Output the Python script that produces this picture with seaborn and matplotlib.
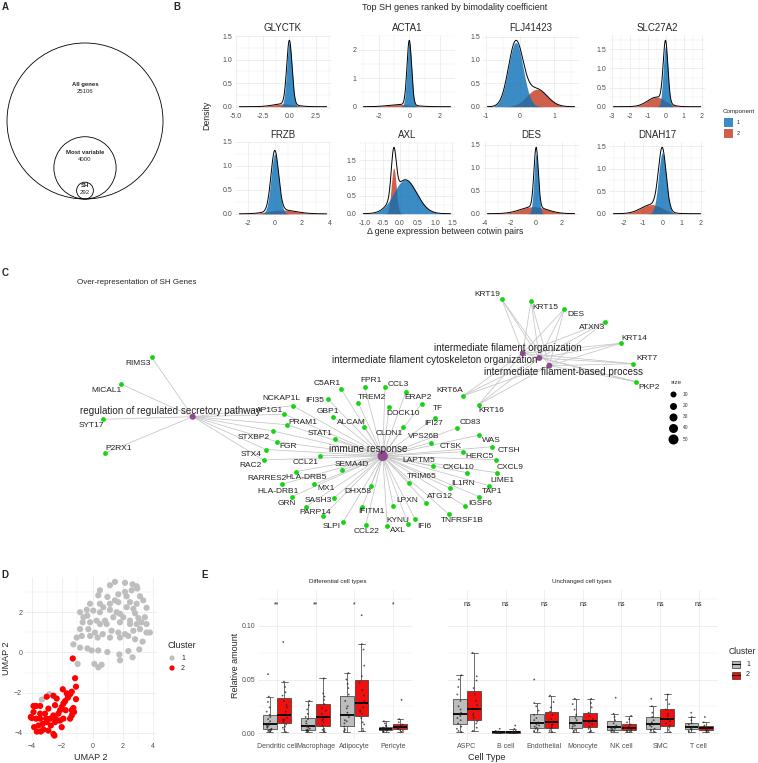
import matplotlib
matplotlib.use("Agg")
import matplotlib.pyplot as plt
from matplotlib.patches import Circle, Rectangle
from matplotlib.ticker import AutoMinorLocator, FixedLocator
import numpy as np
import pandas as pd
import seaborn as sns

W, H = 758, 763

# ---- A: nested gene sets
venn_labels = ["All genes", "Most variable", "SH"]
venn_counts = [25106, 4000, 292]

# ---- B: two-component mixture fits per gene (mean, sd, weight)
gene_names = ["GLYCTK", "ACTA1", "FLJ41423", "SLC27A2", "FRZB", "AXL", "DES", "DNAH17"]
c1_mean = [0.0, 0.0, -0.12, 0.0, 0.0, 0.15, 0.0, 0.0]
c1_sd = [0.25, 0.15, 0.215, 0.13, 0.28, 0.33, 0.17, 0.2]
c1_w = [0.85, 0.85, 0.74, 0.515, 0.88, 0.79, 0.55, 0.68]
c2_mean = [-0.5, -0.5, 0.5, -0.5, 0.5, -0.18, -0.2, -0.55]
c2_sd = [1.0, 0.8, 0.3, 0.5, 1.0, 0.07, 1.0, 0.55]
c2_w = [0.15, 0.15, 0.28, 0.31, 0.2, 0.225, 0.38, 0.28]
x_lo = [-4.7, -3.0, -0.95, -2.9, -2.6, -1.05, -3.8, -2.55]
x_hi = [3.5, 2.7, 1.6, 1.95, 3.8, 1.45, 3.0, 2.0]
x_ticks = [[-5.0, -2.5, 0.0, 2.5], [-2, 0, 2], [-1, 0, 1], [-3, -2, -1, 0, 1, 2],
           [-2, 0, 2, 4], [-1.0, -0.5, 0.0, 0.5, 1.0, 1.5], [-4, -2, 0, 2], [-2, -1, 0, 1, 2]]
x_fmt = ["{:.1f}", "{:g}", "{:g}", "{:g}", "{:g}", "{:.1f}", "{:g}", "{:g}"]

# ---- C: enrichment network
hub_names = ["immune response", "regulation of regulated secretory pathway",
             "intermediate filament organization",
             "intermediate filament cytoskeleton organization",
             "intermediate filament-based process"]
hub_x = [382.7, 192.7, 522.7, 539.3, 549.3]
hub_y = [456.0, 416.7, 353.3, 358.0, 365.7]
hub_label_x = [368.3, 170.0, 508.3, 434.5, 563.3]
hub_label_y = [449.0, 410.7, 347.7, 360.0, 372.3]

net_genes = ["RIMS3", "MICAL1", "SYT17", "P2RX1",
             "NCKAP1L", "AP1G1", "PRAM1", "STXBP2", "FGR", "STX4", "RAC2",
             "CCL21", "C5AR1", "IFI35", "GBP1", "ALCAM", "STAT1", "FPR1", "TREM2", "CCL3", "ERAP2",
             "DOCK10", "TF", "IFI27", "CD83", "CLDN1", "VPS26B", "WAS", "CTSK", "CTSH", "HERC5",
             "CXCL9", "CXCL10", "LAPTM5", "SEMA4D", "RARRES2", "HLA-DRB5", "MX1", "HLA-DRB1", "GRN", "SASH3",
             "PARP14", "DHX58", "TRIM65", "IL1RN", "LIME1", "TAP1", "ATG12", "IGSF6", "LPXN", "IFITM1",
             "TNFRSF1B", "SLPI", "CCL22", "KYNU", "AXL", "IFI6",
             "KRT6A", "KRT16", "KRT19", "KRT15", "DES", "ATXN3", "KRT14", "KRT7", "PKP2"]
node_x = [151.7, 120.7, 103.3, 105.0,
          292.7, 284.3, 286.7, 272.7, 277.0, 266.0, 263.5,
          320.0, 341.2, 327.5, 333.3, 364.3, 334.5, 364.5, 358.3, 385.0, 405.8,
          389.3, 421.7, 435.0, 457.3, 403.3, 431.0, 479.3, 463.3, 492.3, 496.0,
          496.7, 467.3, 432.5, 342.3, 281.7, 295.7, 314.3, 292.0, 306.0, 334.3,
          323.3, 371.0, 409.3, 450.0, 489.3, 479.3, 426.0, 465.0, 393.3, 362.3,
          449.0, 343.3, 365.7, 387.3, 408.3, 415.0,
          463.3, 478.7, 501.7, 531.0, 564.3, 605.3, 620.7, 633.3, 636.0]
node_y = [357.3, 384.0, 419.3, 453.0,
          405.7, 414.3, 424.7, 431.0, 441.7, 449.5, 460.0,
          455.5, 389.0, 398.5, 417.0, 427.2, 438.7, 386.5, 403.0, 387.3, 391.8,
          407.2, 403.5, 417.5, 427.7, 427.2, 442.5, 435.0, 451.7, 446.7, 459.7,
          472.7, 472.7, 466.0, 470.0, 484.3, 471.7, 484.3, 496.7, 506.7, 497.7,
          515.7, 485.7, 482.7, 488.3, 485.7, 496.7, 502.7, 506.0, 506.0, 506.7,
          514.3, 521.7, 525.0, 525.7, 524.0, 519.0,
          395.7, 404.5, 299.3, 301.3, 309.0, 321.7, 343.3, 363.7, 381.7]
label_x = [137.7, 106.0, 91.7, 118.3,
           281.0, 270.0, 303.3, 254.0, 288.3, 251.5, 250.0,
           306.0, 327.0, 314.5, 328.3, 351.7, 320.0, 371.5, 372.3, 398.3, 418.3,
           402.7, 438.3, 433.3, 470.0, 389.3, 423.3, 491.7, 450.7, 509.0, 479.3,
           510.0, 458.3, 418.3, 351.7, 267.3, 306.0, 326.0, 278.3, 286.7, 318.3,
           315.0, 358.3, 421.7, 463.3, 502.7, 491.7, 440.0, 480.0, 407.3, 371.0,
           462.7, 331.7, 366.7, 398.3, 398.3, 424.0,
           450.0, 491.7, 487.7, 545.0, 576.0, 591.7, 634.3, 646.7, 649.3]
label_y = [363.7, 390.0, 425.7, 448.0,
           399.0, 410.0, 422.0, 437.3, 447.0, 454.0, 465.7,
           462.0, 383.5, 400.5, 411.3, 422.0, 433.3, 380.5, 397.7, 384.5, 397.7,
           413.3, 408.3, 423.3, 422.7, 433.3, 436.7, 440.0, 446.7, 450.7, 456.7,
           467.7, 467.3, 460.0, 465.0, 478.3, 477.3, 489.0, 491.7, 503.3, 501.0,
           512.3, 491.7, 476.7, 483.3, 480.0, 491.7, 496.7, 503.3, 501.0, 511.7,
           520.7, 526.7, 531.7, 520.0, 531.0, 527.0,
           390.0, 410.7, 294.0, 307.3, 314.0, 327.7, 338.0, 358.3, 387.3]
secretory_genes = net_genes[:11]
immune_genes = net_genes[4:57]
filament_genes = net_genes[57:]
size_breaks = [10, 20, 30, 40, 50]

# ---- D: UMAP of samples
c1_x = [1.48, 2.14, 2.64, 2.91, 1.15, 1.70, 2.14, 2.58, 2.95, 0.49,
        0.38, 0.98, 1.48, 2.25, 3.13, 3.34, -0.16, 0.49, 0.71, 1.15,
        1.70, 2.47, 2.91, -0.38, -0.82, 0.05, 0.49, 1.15, 1.59, 2.25,
        2.69, 1.81, 2.80, 3.56, -0.60, -0.34, 0.27, 0.82, 1.37, 2.03,
        2.47, 3.02, 3.45, 3.56, -0.65, -0.16, 0.49, 0.93, 1.81, 2.47,
        2.91, 3.23, -0.82, -0.27, 0.16, 0.67, 1.26, 1.70, 2.14, 2.69,
        3.13, 3.56, 3.78, -1.04, -0.71, -0.16, 0.34, 1.15, 1.81, 2.36,
        2.80, 3.30, -1.26, -0.82, -0.34, -0.05, 0.38, 0.98, 1.77, 2.36,
        3.08, 0.12, 0.38, 0.60, 1.81, 2.64, -0.98, -2.84, -3.34]
c1_y = [3.51, 3.46, 3.39, 3.29, 3.34, 2.89, 3.01, 3.09, 3.18, 3.09,
        2.84, 2.76, 2.59, 2.79, 2.79, 2.59, 2.42, 2.42, 2.25, 2.42,
        2.50, 2.50, 2.42, 2.12, 2.00, 2.08, 2.00, 2.12, 2.00, 2.25,
        2.17, 1.92, 1.95, 2.22, 1.75, 1.83, 1.58, 1.58, 1.75, 1.75,
        1.58, 1.71, 1.75, 1.41, 1.50, 1.50, 1.41, 1.41, 1.50, 1.41,
        1.41, 1.50, 1.16, 1.16, 0.99, 0.91, 1.08, 0.99, 0.91, 1.08,
        1.16, 0.99, 0.99, 0.74, 0.82, 0.82, 0.74, 0.74, 0.74, 0.82,
        0.66, 0.54, 0.40, 0.24, 0.20, 0.10, 0.10, 0.02, -0.10, 0.07,
        0.15, -0.57, -0.74, -0.61, -0.39, -0.24, -0.57, -2.08, -2.34]
c2_x = [-1.30, -1.15, -1.09, -1.37, -1.48, -1.63, -1.81, -1.09, -1.92, -2.36,
        -1.96, -2.58, -3.02, -2.47, -2.03, -1.26, -1.37, -1.77, -2.25, -2.58,
        -2.91, -3.45, -3.89, -3.72, -3.89, -4.00, -3.72, -3.45, -3.13, -3.06,
        -2.80, -2.47, -2.31, -1.92, -1.37, -1.22, -3.85, -3.56, -3.41, -3.23,
        -2.91, -2.75, -2.47, -2.14, -2.03, -2.58, -2.51, -3.67, -3.02, -3.28,
        -1.48, -4.07, -3.45, -1.70, -2.14]
c2_y = [-0.30, -1.28, -1.70, -1.95, -2.08, -2.25, -2.42, -2.32, -2.54, -2.29,
        -1.83, -2.15, -2.20, -2.62, -2.71, -2.76, -2.87, -2.87, -3.04, -3.13,
        -2.79, -2.66, -2.66, -2.66, -2.96, -3.26, -3.29, -3.29, -3.04, -3.29,
        -3.29, -3.29, -3.38, -3.29, -3.13, -2.96, -3.71, -3.63, -3.93, -3.83,
        -3.88, -3.63, -3.46, -3.38, -3.71, -4.05, -4.13, -3.93, -3.46, -3.55,
        -3.29, -3.21, -3.04, -2.03, -2.87]

# ---- E: cell type proportions by cluster
cells_diff = ["Dendritic cell", "Macrophage", "Adipocyte", "Pericyte"]
cells_same = ["ASPC", "B cell", "Endothelial", "Monocyte", "NK cell", "SMC", "T cell"]
marks_diff = ["**", "**", "*", "*"]
marks_same = ["ns"] * 7
diff_cl1 = [
    [0.001, 0.002, 0.002, 0.003, 0.003, 0.004, 0.005, 0.006, 0.007, 0.0075, 0.008, 0.009, 0.011, 0.013, 0.015, 0.017, 0.02, 0.024, 0.029, 0.034, 0.055],
    [0.001, 0.002, 0.002, 0.003, 0.003, 0.004, 0.005, 0.006, 0.0065, 0.007, 0.009, 0.011, 0.013, 0.015, 0.018, 0.022, 0.026, 0.03],
    [0.001, 0.002, 0.003, 0.004, 0.006, 0.009, 0.011, 0.012, 0.015, 0.019, 0.023, 0.025, 0.03, 0.036, 0.042, 0.046, 0.05, 0.056],
    [0.001, 0.0015, 0.002, 0.0025, 0.003, 0.0035, 0.004, 0.0045, 0.005, 0.006, 0.007, 0.009, 0.011],
]
diff_cl2 = [
    [0.001, 0.003, 0.005, 0.006, 0.008, 0.01, 0.012, 0.0125, 0.014, 0.017, 0.02, 0.024, 0.026, 0.03, 0.035, 0.038, 0.043, 0.048, 0.085],
    [0.001, 0.002, 0.003, 0.004, 0.007, 0.01, 0.012, 0.013, 0.015, 0.018, 0.021, 0.023, 0.027, 0.031, 0.034, 0.037, 0.051],
    [0.002, 0.004, 0.008, 0.01, 0.014, 0.018, 0.02, 0.021, 0.024, 0.028, 0.03, 0.035, 0.04, 0.047, 0.053, 0.063, 0.078, 0.083, 0.11],
    [0.001, 0.002, 0.003, 0.004, 0.0045, 0.005, 0.006, 0.007, 0.008, 0.01, 0.013, 0.031],
]
same_cl1 = [
    [0.001, 0.002, 0.004, 0.006, 0.009, 0.012, 0.014, 0.016, 0.019, 0.022, 0.025, 0.03, 0.036, 0.043, 0.05, 0.054],
    [0.0, 0.0002, 0.0004, 0.0005, 0.0007, 0.001, 0.0015, 0.002, 0.004],
    [0.001, 0.002, 0.003, 0.004, 0.005, 0.006, 0.007, 0.008, 0.01, 0.012, 0.014, 0.017, 0.021, 0.025, 0.028, 0.05],
    [0.001, 0.002, 0.003, 0.004, 0.006, 0.007, 0.008, 0.01, 0.012, 0.014, 0.017, 0.022, 0.027, 0.032],
    [0.001, 0.002, 0.0025, 0.003, 0.004, 0.0045, 0.005, 0.006, 0.007, 0.009, 0.012, 0.015, 0.018, 0.033],
    [0.001, 0.002, 0.003, 0.004, 0.006, 0.007, 0.008, 0.01, 0.012, 0.015, 0.019, 0.025, 0.032],
    [0.001, 0.002, 0.003, 0.004, 0.005, 0.0055, 0.006, 0.008, 0.009, 0.012, 0.015, 0.019],
]
same_cl2 = [
    [0.002, 0.005, 0.009, 0.011, 0.014, 0.016, 0.018, 0.022, 0.026, 0.03, 0.036, 0.042, 0.049, 0.053, 0.075],
    [0.0, 0.0003, 0.0005, 0.0008, 0.001, 0.0012, 0.002, 0.004, 0.007],
    [0.001, 0.002, 0.004, 0.005, 0.007, 0.008, 0.01, 0.013, 0.017, 0.02, 0.024, 0.029, 0.035],
    [0.001, 0.002, 0.004, 0.006, 0.008, 0.01, 0.011, 0.013, 0.016, 0.019, 0.024, 0.028, 0.032],
    [0.001, 0.0015, 0.002, 0.003, 0.004, 0.0045, 0.005, 0.006, 0.008, 0.01, 0.013, 0.016],
    [0.001, 0.003, 0.005, 0.007, 0.009, 0.011, 0.013, 0.016, 0.018, 0.022, 0.027, 0.031, 0.036],
    [0.001, 0.0015, 0.002, 0.003, 0.004, 0.0045, 0.005, 0.006, 0.007, 0.01, 0.015],
]

BLUE, RED = "#0A70B6", "#C4381F"
GRID = "#EBEBEB"
TICK = "#4D4D4D"


def rect(l, t, r, b):
    return [l / W, 1 - b / H, (r - l) / W, (b - t) / H]


def ftext(fig, x, y, s, **kw):
    kw.setdefault("ha", "center")
    kw.setdefault("va", "center")
    fig.text(x / W, 1 - y / H, s, **kw)


def clean(ax):
    for sp in ax.spines.values():
        sp.set_visible(False)
    ax.tick_params(length=0, labelsize=5, labelcolor=TICK, pad=2)
    ax.set_facecolor("white")


def gauss(x, m, s, w):
    return w * np.exp(-0.5 * ((x - m) / s) ** 2) / (s * np.sqrt(2 * np.pi))


def panel_a(fig):
    ax = fig.add_axes(rect(0, 30, 175, 215))
    ax.set_xlim(0, 175)
    ax.set_ylim(215, 30)
    ax.axis("off")
    for name, n in zip(venn_labels, venn_counts):
        r = 78 * np.sqrt(n / venn_counts[0])
        cy = 199 - r
        ty = cy - 0.45 * r - 1
        ax.add_patch(Circle((85, cy), r, fill=False, lw=0.6, ec="black"))
        ax.text(85, ty, name, ha="center", va="center", fontsize=4.3, fontweight="bold")
        ax.text(85, ty + 7, str(n), ha="center", va="center", fontsize=4.3)


def panel_b(fig):
    lefts = [235, 359, 483, 609]
    tops = [35, 142]
    for i, gene in enumerate(gene_names):
        l = lefts[i % 4]
        t = tops[i // 4]
        ax = fig.add_axes(rect(l, t, l + 96, t + 75))
        clean(ax)
        x = np.linspace(x_lo[i], x_hi[i], 400)
        d1 = gauss(x, c1_mean[i], c1_sd[i], c1_w[i])
        d2 = gauss(x, c2_mean[i], c2_sd[i], c2_w[i])
        ax.fill_between(x, d2, color=RED, alpha=0.8, lw=0, zorder=2)
        ax.fill_between(x, d1, color=BLUE, alpha=0.8, lw=0, zorder=3)
        sns.lineplot(x=x, y=d1 + d2, color="black", lw=0.7, ax=ax, zorder=4)
        span = x_hi[i] - x_lo[i]
        ax.set_xlim(x_lo[i] - 0.05 * span, x_hi[i] + 0.05 * span)
        top = (d1 + d2).max()
        ax.set_ylim(-0.05 * top, top * 1.08)
        ax.xaxis.set_major_locator(FixedLocator(x_ticks[i]))
        ax.set_xticklabels([x_fmt[i].format(v) for v in x_ticks[i]])
        if gene == "ACTA1":
            yt = [0, 1, 2]
            ax.set_yticks(yt)
            ax.set_yticklabels([str(v) for v in yt])
        else:
            yt = [0, 0.5, 1.0, 1.5]
            ax.set_yticks(yt)
            ax.set_yticklabels([f"{v:.1f}" for v in yt])
        ax.xaxis.set_minor_locator(AutoMinorLocator(2))
        ax.yaxis.set_minor_locator(AutoMinorLocator(2))
        ax.grid(True, which="major", color=GRID, lw=0.6)
        ax.grid(True, which="minor", color=GRID, lw=0.3)
        ax.set_axisbelow(True)
        ax.set_xlabel("")
        ax.set_ylabel("")
        ax.set_title(gene, fontsize=7, pad=3)
    ftext(fig, 455, 8, "Top SH genes ranked by bimodality coefficient", fontsize=6.5)
    ftext(fig, 445, 232, "\u0394 gene expression between cotwin pairs", fontsize=6.3)
    ftext(fig, 207, 115, "Density", fontsize=6.3, rotation=90)
    ftext(fig, 723, 112, "Component", fontsize=4.5, ha="left")
    for k, col in enumerate([BLUE, RED]):
        y = 118 + 11 * k
        fig.patches.append(Rectangle((724 / W, 1 - (y + 9) / H), 9 / W, 9 / H, transform=fig.transFigure,
                                     fc=col, alpha=0.8, lw=0))
        ftext(fig, 737, y + 4.5, str(k + 1), fontsize=4, ha="left")


def panel_c(fig):
    ax = fig.add_axes(rect(0, 290, 758, 570))
    ax.set_xlim(0, 758)
    ax.set_ylim(570, 290)
    ax.axis("off")
    pos = {g: (x, y) for g, x, y in zip(net_genes, node_x, node_y)}
    members = [immune_genes, secretory_genes, filament_genes, filament_genes, filament_genes]
    for hx, hy, genes in zip(hub_x, hub_y, members):
        for g in genes:
            gx, gy = pos[g]
            ax.plot([hx, gx], [hy, gy], color="#C4C4C4", lw=0.55, zorder=1)
    sns.scatterplot(x=node_x, y=node_y, color="#14D414", s=12, linewidth=0, ax=ax, zorder=3)
    hub_sizes = [len(m) for m in members]
    hub_s = [((5 + 0.1 * n) * 0.72) ** 2 for n in hub_sizes]
    ax.scatter(hub_x, hub_y, s=hub_s, color="#8E4A8E", lw=0, zorder=4)
    for g, lx, ly in zip(net_genes, label_x, label_y):
        ax.text(lx, ly, g, ha="center", va="center", fontsize=6, color="#222222", zorder=5)
    for name, lx, ly in zip(hub_names, hub_label_x, hub_label_y):
        ax.text(lx, ly, name, ha="center", va="center", fontsize=7.1, color="#222222", zorder=5)
    ax.text(676, 383, "size", ha="center", va="center", fontsize=4.5, color="#333333")
    for k, n in enumerate(size_breaks):
        y = 394.3 + 11.2 * k
        ax.scatter([673.3], [y], s=((5 + 0.1 * n) * 0.72) ** 2, color="black", lw=0)
        ax.text(683, y, str(n), ha="left", va="center", fontsize=3.5, color="#333333")
    ftext(fig, 77, 283, "Over-representation of SH Genes", fontsize=5.8, ha="left")


def panel_d(fig):
    ax = fig.add_axes(rect(25, 577, 157, 740))
    clean(ax)
    df = pd.DataFrame({
        "x": c1_x + c2_x,
        "y": c1_y + c2_y,
        "Cluster": ["1"] * len(c1_x) + ["2"] * len(c2_x),
    })
    sns.scatterplot(data=df, x="x", y="y", hue="Cluster", palette={"1": "#BEBEBE", "2": "#FF0000"},
                    s=20, linewidth=0, legend=False, ax=ax, zorder=3)
    ax.set_xlim(-4.45, 4.25)
    ax.set_ylim(-4.35, 3.75)
    ax.set_xticks([-4, -2, 0, 2, 4])
    ax.set_yticks([-4, -2, 0, 2])
    ax.xaxis.set_minor_locator(AutoMinorLocator(2))
    ax.yaxis.set_minor_locator(AutoMinorLocator(2))
    ax.grid(True, which="major", color=GRID, lw=0.6)
    ax.grid(True, which="minor", color=GRID, lw=0.3)
    ax.set_axisbelow(True)
    ax.set_xlabel("UMAP 2", fontsize=6.5, labelpad=2)
    ax.set_ylabel("UMAP 2", fontsize=6.5, labelpad=2)
    ftext(fig, 167, 646, "Cluster", fontsize=6.5, ha="left")
    for k, col in enumerate(["#BEBEBE", "#FF0000"]):
        y = 658 + 10 * k
        fig.add_artist(Circle((172 / W, 1 - y / H), 2.6 / W, transform=fig.transFigure, color=col, lw=0))
        ftext(fig, 181, y, str(k + 1), fontsize=5, ha="left")


def box_facet(ax, cells, vals1, vals2, marks, show_y):
    rows = []
    for cell, a, b in zip(cells, vals1, vals2):
        rows += [(cell, "1", v) for v in a] + [(cell, "2", v) for v in b]
    df = pd.DataFrame(rows, columns=["cell", "cluster", "value"])
    sns.boxplot(data=df, x="cell", y="value", hue="cluster", order=cells, hue_order=["1", "2"],
                palette={"1": "#BDBDBD", "2": "#F01010"}, width=0.75, gap=0.05, showfliers=False,
                linewidth=0.5, linecolor="#333333", saturation=1,
                medianprops=dict(color="black", linewidth=1.3), legend=False, ax=ax)
    sns.stripplot(data=df, x="cell", y="value", hue="cluster", order=cells, hue_order=["1", "2"],
                  palette={"1": "#222222", "2": "#222222"}, dodge=True, jitter=0.14, size=1.3,
                  alpha=0.75, legend=False, ax=ax)
    for i, m in enumerate(marks):
        ax.text(i, 0.12, m, ha="center", va="center", fontsize=5, color="#222222")
    clean(ax)
    ax.set_xlim(-0.5, len(cells) - 0.5)
    ax.set_ylim(-0.0065, 0.1336)
    ax.set_yticks([0.0, 0.05, 0.10])
    ax.yaxis.set_minor_locator(FixedLocator([0.025, 0.075, 0.125]))
    ax.grid(True, which="major", color=GRID, lw=0.6)
    ax.grid(True, which="minor", axis="y", color=GRID, lw=0.3)
    ax.set_axisbelow(True)
    ax.set_xlabel("")
    ax.set_ylabel("")
    if show_y:
        ax.set_yticklabels(["0.00", "0.05", "0.10"])
    else:
        ax.set_yticklabels([])


def panel_e(fig):
    np.random.seed(3)
    ax1 = fig.add_axes(rect(257.7, 590, 412.1, 740))
    ax2 = fig.add_axes(rect(447.7, 590, 718, 740))
    box_facet(ax1, cells_diff, diff_cl1, diff_cl2, marks_diff, True)
    box_facet(ax2, cells_same, same_cl1, same_cl2, marks_same, False)
    ftext(fig, 338, 581, "Differential cell types", fontsize=4.5)
    ftext(fig, 582, 581, "Unchanged cell types", fontsize=4.5)
    ftext(fig, 487, 757, "Cell Type", fontsize=6.5)
    ftext(fig, 236, 665, "Relative amount", fontsize=6.5, rotation=90)
    ftext(fig, 729, 652, "Cluster", fontsize=6.2, ha="left")
    for k, col in enumerate(["#BDBDBD", "#F01010"]):
        y = 664 + 11 * k
        fig.patches.append(Rectangle((732 / W, 1 - (y + 3.5) / H), 8 / W, 7 / H, transform=fig.transFigure,
                                     fc=col, ec="#333333", lw=0.5))
        fig.add_artist(plt.Line2D([732 / W, 740 / W], [1 - y / H, 1 - y / H], color="black", lw=0.8))
        ftext(fig, 746, y, str(k + 1), fontsize=5, ha="left")


def main() -> None:
    sns.set_style("white")
    plt.rcParams["font.family"] = ["Liberation Sans", "DejaVu Sans"]
    fig = plt.figure(figsize=(W / 100, H / 100), dpi=100)
    fig.patch.set_facecolor("white")

    panel_a(fig)
    panel_b(fig)
    panel_c(fig)
    panel_d(fig)
    panel_e(fig)

    for lab, x, y in [("A", 5, 7), ("B", 177, 7), ("C", 5, 273), ("D", 5, 575), ("E", 205, 575)]:
        ftext(fig, x, y, lab, fontsize=7, fontweight="bold")

    fig.savefig("out.png", dpi=100)
    plt.close(fig)


if __name__ == "__main__":
    main()
